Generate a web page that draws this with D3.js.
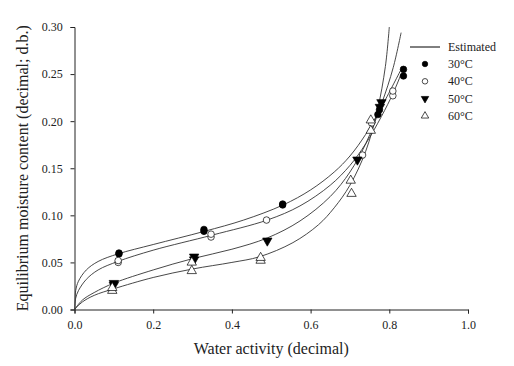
<!DOCTYPE html>
<html>
<head>
<meta charset="utf-8">
<script src="https://cdn.jsdelivr.net/npm/d3@7"></script>
<style>
  body { margin: 0; background: #fff; }
  svg { font-family: "Liberation Serif", "Times New Roman", serif; }
</style>
</head>
<body>
<svg></svg>
<script>
const svgWidth = 514
const svgHeight = 366
const margins = { top: 27, bottom: 56.5, left: 74.5, right: 46 }
const plotWidth = svgWidth - margins.left - margins.right
const plotHeight = svgHeight - margins.top - margins.bottom

const aw30 = [0.113, 0.113, 0.329, 0.329, 0.529, 0.529, 0.771, 0.775, 0.836, 0.836]
const emc30 = [0.059, 0.060, 0.083, 0.085, 0.111, 0.112, 0.207, 0.212, 0.248, 0.255]
const aw40 = [0.111, 0.111, 0.347, 0.347, 0.488, 0.732, 0.755, 0.809, 0.809]
const emc40 = [0.050, 0.052, 0.077, 0.080, 0.095, 0.164, 0.198, 0.227, 0.232]
const aw50 = [0.100, 0.100, 0.304, 0.304, 0.490, 0.719, 0.776, 0.780]
const emc50 = [0.026, 0.028, 0.053, 0.056, 0.073, 0.159, 0.215, 0.220]
const aw60 = [0.096, 0.096, 0.298, 0.298, 0.473, 0.473, 0.702, 0.704, 0.753, 0.753]
const emc60 = [0.020, 0.023, 0.041, 0.050, 0.052, 0.055, 0.137, 0.123, 0.201, 0.190]

// estimated curves
const fitAw30 = [0, 0.003, 0.01, 0.03, 0.06, 0.11, 0.2, 0.33, 0.43, 0.53, 0.6, 0.66, 0.7, 0.74, 0.78, 0.83]
const fitEmc30 = [0, 0.02, 0.03, 0.042, 0.051, 0.059, 0.069, 0.083, 0.095, 0.111, 0.127, 0.146, 0.163, 0.186, 0.215, 0.255]
const fitAw40 = [0, 0.003, 0.01, 0.03, 0.06, 0.11, 0.2, 0.35, 0.49, 0.573, 0.65, 0.7, 0.74, 0.78, 0.81, 0.83]
const fitEmc40 = [0, 0.012, 0.02, 0.032, 0.042, 0.051, 0.063, 0.079, 0.095, 0.11, 0.132, 0.153, 0.176, 0.205, 0.23, 0.25]
const fitAw50 = [0, 0.02, 0.05, 0.1, 0.2, 0.3, 0.4, 0.49, 0.573, 0.65, 0.7, 0.74, 0.78, 0.81, 0.83]
const fitEmc50 = [0, 0.01, 0.018, 0.028, 0.042, 0.054, 0.064, 0.076, 0.094, 0.12, 0.146, 0.176, 0.218, 0.257, 0.294]
const fitAw60 = [0, 0.02, 0.05, 0.1, 0.2, 0.3, 0.4, 0.47, 0.555, 0.62, 0.66, 0.7, 0.74, 0.77, 0.79, 0.80]
const fitEmc60 = [0, 0.008, 0.015, 0.022, 0.034, 0.043, 0.05, 0.056, 0.071, 0.09, 0.108, 0.132, 0.168, 0.212, 0.258, 0.30]

const legendLabels = ["30°C", "40°C", "50°C", "60°C"]
const xTicks = [0, 0.2, 0.4, 0.6, 0.8, 1.0]
const yTicks = [0, 0.05, 0.10, 0.15, 0.20, 0.25, 0.30]

const svg = d3.select("svg")
  .attr("width", svgWidth)
  .attr("height", svgHeight)

const xScale = d3.scaleLinear().domain([0, 1]).range([0, plotWidth])
const yScale = d3.scaleLinear().domain([0, 0.3]).range([plotHeight, 0])

const plot = svg.append("g")
  .attr("transform", `translate(${margins.left},${margins.top})`)

const xAxis = plot.append("g")
  .attr("transform", `translate(0,${plotHeight})`)
  .call(d3.axisBottom(xScale).tickValues(xTicks).tickFormat(d3.format(".1f")).tickSizeOuter(0).tickSize(4))
const yAxis = plot.append("g")
  .call(d3.axisLeft(yScale).tickValues(yTicks).tickFormat(d3.format(".2f")).tickSizeOuter(0).tickSize(4))

;[xAxis, yAxis].forEach((ax) => {
  ax.selectAll("text").attr("font-family", "Liberation Serif").attr("font-size", 12).attr("fill", "#222")
  ax.selectAll("line").attr("stroke", "#222")
  ax.select(".domain").attr("stroke", "#222")
})
xAxis.selectAll("text").attr("dy", "1.05em")
yAxis.selectAll("text").attr("dx", "-0.4em")

svg.append("text")
  .text("Water activity (decimal)")
  .attr("x", margins.left + plotWidth / 2)
  .attr("y", 354)
  .attr("text-anchor", "middle")
  .attr("font-size", 16)
  .attr("fill", "#222")

svg.append("text")
  .text("Equilibrium moisture content (decimal; d.b.)")
  .attr("transform", `translate(28,${margins.top + plotHeight / 2}) rotate(-90)`)
  .attr("text-anchor", "middle")
  .attr("font-size", 16)
  .attr("fill", "#222")

svg.append("clipPath").attr("id", "clip")
  .append("rect").attr("x", 0).attr("y", 0).attr("width", plotWidth).attr("height", plotHeight)

const line = d3.line()
  .x((d) => xScale(d[0]))
  .y((d) => yScale(d[1]))
  .curve(d3.curveCatmullRom.alpha(0.5))

const fits = [
  [fitAw30, fitEmc30],
  [fitAw40, fitEmc40],
  [fitAw50, fitEmc50],
  [fitAw60, fitEmc60]
]
const curveGroup = plot.append("g").attr("clip-path", "url(#clip)")
fits.forEach((f) => {
  curveGroup.append("path")
    .datum(f[0].map((a, i) => [a, f[1][i]]))
    .attr("d", line)
    .attr("fill", "none")
    .attr("stroke", "#333")
    .attr("stroke-width", 0.9)
})

const circleSym = d3.symbol().type(d3.symbolCircle).size(34)
const triUp = d3.symbol().type(d3.symbolTriangle).size(38)
const series = [
  { aw: aw30, emc: emc30, sym: circleSym, fill: "#000", rot: 0 },
  { aw: aw40, emc: emc40, sym: circleSym, fill: "#fff", rot: 0 },
  { aw: aw50, emc: emc50, sym: triUp, fill: "#000", rot: 180 },
  { aw: aw60, emc: emc60, sym: triUp, fill: "#fff", rot: 0 }
]

series.forEach((s) => {
  plot.append("g").selectAll("path")
    .data(s.aw.map((a, i) => [a, s.emc[i]]))
    .enter()
    .append("path")
    .attr("d", s.sym)
    .attr("transform", (d) => `translate(${xScale(d[0])},${yScale(d[1])}) rotate(${s.rot})`)
    .attr("fill", s.fill)
    .attr("stroke", "#000")
    .attr("stroke-width", 0.7)
})

// legend
const legend = svg.append("g").attr("transform", "translate(410,47)")
legend.append("line")
  .attr("x1", 0).attr("x2", 30).attr("y1", 0).attr("y2", 0)
  .attr("stroke", "#000").attr("stroke-width", 1)
legend.append("text").text("Estimated")
  .attr("x", 38).attr("y", 4).attr("font-size", 12).attr("fill", "#222")

legend.selectAll(".legend-sym")
  .data(series)
  .enter()
  .append("path")
  .attr("d", (d) => d3.symbol().type(d.sym.type()).size(24)())
  .attr("transform", (d, i) => `translate(15,${17 + i * 17.3}) rotate(${d.rot})`)
  .attr("fill", (d) => d.fill)
  .attr("stroke", "#000")
  .attr("stroke-width", 0.7)

legend.selectAll(".legend-label")
  .data(legendLabels)
  .enter()
  .append("text")
  .text((d) => d)
  .attr("x", 38)
  .attr("y", (d, i) => 21 + i * 17.3)
  .attr("font-size", 12)
  .attr("fill", "#222")
</script>
</body>
</html>
